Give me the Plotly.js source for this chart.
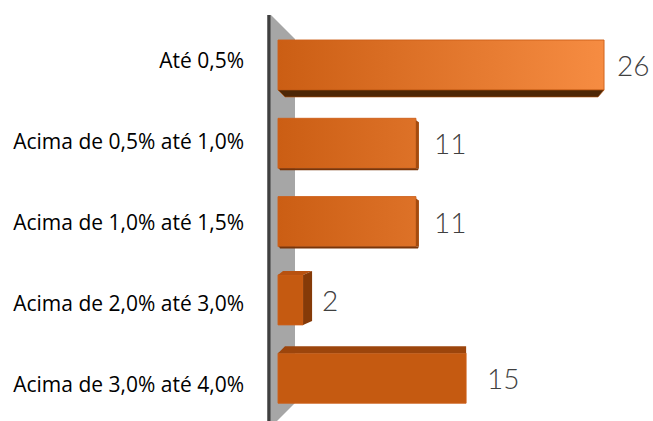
<!DOCTYPE html>
<html>
<head>
<meta charset="utf-8">
<script src="https://cdn.plot.ly/plotly-3.0.1.min.js"></script>
<style>html,body{margin:0;padding:0;background:#fff;}#chart{width:653px;height:421px;}</style>
</head>
<body>
<div id="chart"></div>
<script>
// ---- data ----
var categories = ["Até 0,5%", "Acima de 0,5% até 1,0%", "Acima de 1,0% até 1,5%", "Acima de 2,0% até 3,0%", "Acima de 3,0% até 4,0%"];
var values = [26, 11, 11, 2, 15];

// ---- styling / geometry ----
var W = 653, H = 421, L = 269, T = 15;
var pxPerX = 12.54;            // pixels per value unit
var pxPerY = 78.3;             // pixels per category step
var x0 = -(278 - L) / pxPerX;  // left end of x range
var x1 = x0 + (W - L) / pxPerX;
var catTop = 65;               // pixel of first category centre
var yr = [(H - catTop) / pxPerY, -(catTop - T) / pxPerY];
var labTop = 61, labStep = 81;
var yr2 = [(H - labTop) / labStep, -(labTop - T) / labStep];
var barW = 50 / pxPerY;
var hw = barW / 2;
var ux = 1 / pxPerX, uy = 1 / pxPerY;
var idx = categories.map(function (c, i) { return i; });
var solidColors = ["#d5661b", "#d5661b", "#d5661b", "#c55a11", "#c55a11"];
var labelGap = [11, 16, 16, 17, 19];

var traces = [{
  type: "bar", orientation: "h",
  x: values, y: idx, width: barW,
  marker: {color: solidColors, line: {color: "rgba(205,95,25,0.9)", width: 1}},
  hoverinfo: "skip", cliponaxis: false
}, {
  type: "scatter", mode: "none", x: idx.map(function () { return 0; }), y: idx,
  yaxis: "y2", hoverinfo: "skip", showlegend: false
}];

// 3D depth faces, derived from values
var shapes = [];
// back wall (decorative)
var pw = W - L, ph = H - T;
function px(p) { return (p - L) / pw; }
function py(p) { return (H - p) / ph; }
shapes.push({type: "path", xref: "paper", yref: "paper", layer: "below", line: {width: 0}, fillcolor: "#a6a6a6",
  path: "M " + px(271) + "," + py(15) + " L " + px(295) + "," + py(39) + " L " + px(295) + "," + py(403) +
        " L " + px(277) + "," + py(421) + " L " + px(271) + "," + py(421) + " Z"});

function P(pts) { return "M " + pts.map(function (p) { return p[0] + "," + p[1]; }).join(" L ") + " Z"; }
values.forEach(function (v, i) {
  var yt = i - hw, yb = i + hw;
  if (i === 0) {
    shapes.push({type: "path", xref: "x", yref: "y", line: {color: "#b9550f", width: 0.6}, fillcolor: "#4e2706",
      path: P([[0, yb], [v, yb], [v - 6 * ux, yb + 7 * uy], [7 * ux, yb + 7 * uy]])});
  } else if (i === 1 || i === 2) {
    shapes.push({type: "path", xref: "x", yref: "y", line: {width: 0}, fillcolor: "#a44b0e",
      path: P([[v, yt + 2 * uy], [v + 3 * ux, yt + 4 * uy], [v + 3 * ux, yb], [v, yb]])});
    shapes.push({type: "path", xref: "x", yref: "y", line: {width: 0}, fillcolor: "#7a3508",
      path: P([[1 * ux, yb], [v + 3 * ux, yb], [v + 2 * ux, yb + 2 * uy], [2 * ux, yb + 2 * uy]])});
  } else if (i === 3) {
    shapes.push({type: "path", xref: "x", yref: "y", line: {width: 0}, fillcolor: "#b85210",
      path: P([[0, yt], [5 * ux, yt - 4 * uy], [v + 9 * ux, yt - 4 * uy], [v, yt]])});
    shapes.push({type: "path", xref: "x", yref: "y", line: {width: 0}, fillcolor: "#853a08",
      path: P([[v, yt], [v + 9 * ux, yt - 4 * uy], [v + 9 * ux, yb - 4 * uy], [v, yb]])});
  } else {
    shapes.push({type: "path", xref: "x", yref: "y", line: {width: 0}, fillcolor: "#9c450c",
      path: P([[0, yt], [7 * ux, yt - 7 * uy], [v, yt - 7 * uy], [v, yt]])});
  }
});
// axis line
shapes.push({type: "line", xref: "paper", yref: "paper", x0: px(269), x1: px(269), y0: 0, y1: 1,
  line: {color: "#3f3f3f", width: 3.5}});

var annotations = values.map(function (v, i) {
  return {x: v, y: i, xref: "x", yref: "y", text: String(v), showarrow: false,
    xanchor: "left", yanchor: "middle", xshift: labelGap[i], yshift: 0,
    font: {family: "Lato, 'Open Sans', sans-serif", size: 28, color: "#404040", weight: 300}};
});

var layout = {
  width: W, height: H,
  margin: {l: L, r: 0, t: T, b: 0, pad: 0},
  paper_bgcolor: "#ffffff", plot_bgcolor: "rgba(0,0,0,0)",
  showlegend: false, bargap: 0,
  xaxis: {range: [x0, x1], visible: false, fixedrange: true},
  yaxis: {range: yr, visible: false, fixedrange: true},
  yaxis2: {overlaying: "y", side: "left", anchor: "x", range: yr2, tickmode: "array",
    tickvals: idx, ticktext: categories, showgrid: false, zeroline: false, showline: false,
    ticks: "", ticklabelstandoff: 24,
    tickfont: {family: "'Open Sans', sans-serif", size: 21, color: "#000000"}},
  shapes: shapes, annotations: annotations
};

Plotly.newPlot("chart", traces, layout, {staticPlot: true, displayModeBar: false}).then(function (gd) {
  var svg = gd.querySelector("svg.main-svg");
  var defs = svg.querySelector("defs");
  var ns = "http://www.w3.org/2000/svg";
  var g = document.createElementNS(ns, "linearGradient");
  g.setAttribute("id", "barGrad");
  g.setAttribute("gradientUnits", "userSpaceOnUse");
  var xa = gd._fullLayout.xaxis;
  g.setAttribute("x1", xa.l2p(0)); g.setAttribute("x2", xa.l2p(values[0]));
  g.setAttribute("y1", 0); g.setAttribute("y2", 0);
  [["0", "#cb5e14"], ["1", "#f68c42"]].forEach(function (s) {
    var st = document.createElementNS(ns, "stop");
    st.setAttribute("offset", s[0]); st.setAttribute("stop-color", s[1]);
    g.appendChild(st);
  });
  defs.appendChild(g);
  var paths = gd.querySelectorAll(".barlayer .point path");
  paths.forEach(function (p, i) { if (i < 3) p.style.fill = "url(#barGrad)"; });
});
</script>
</body>
</html>
